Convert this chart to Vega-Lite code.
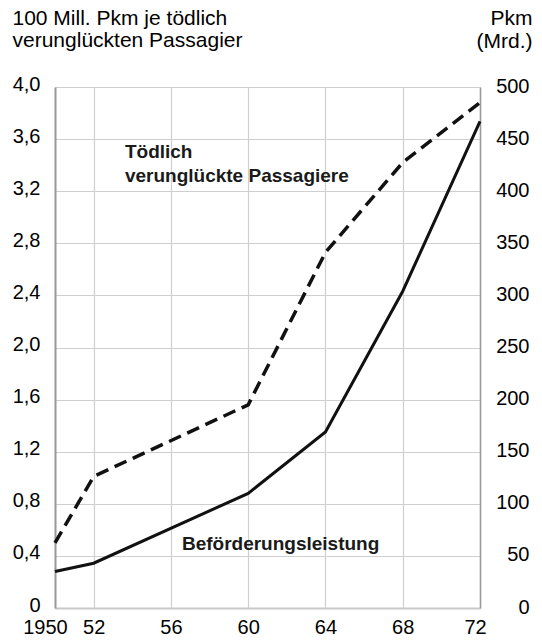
{
  "$schema": "https://vega.github.io/schema/vega-lite/v6.json",
  "width": 425,
  "height": 521,
  "autosize": {"type": "none"},
  "padding": {"left": 55, "top": 87, "right": 62, "bottom": 32},
  "background": "white",
  "config": {
    "view": {"stroke": null},
    "font": "Liberation Sans",
    "axis": {
      "labelFont": "Liberation Sans",
      "labelFontSize": 20,
      "labelColor": "#000",
      "titleFont": "Liberation Sans",
      "titleColor": "#000",
      "ticks": false,
      "tickSize": 0,
      "gridColor": "#cfcfcf",
      "gridWidth": 1.2
    }
  },
  "data": {
    "values": [
      {"year": 1950, "toedlich": 0.5, "pkm": 35},
      {"year": 1952, "toedlich": 1.01, "pkm": 43},
      {"year": 1960, "toedlich": 1.56, "pkm": 110},
      {"year": 1964, "toedlich": 2.73, "pkm": 169},
      {"year": 1968, "toedlich": 3.42, "pkm": 304},
      {"year": 1972, "toedlich": 3.88, "pkm": 467}
    ]
  },
  "layer": [
    {
      "mark": {"type": "line", "strokeDash": [13, 7], "strokeWidth": 3.5, "color": "#111"},
      "encoding": {
        "x": {
          "field": "year",
          "type": "quantitative",
          "scale": {"domain": [1950, 1972], "nice": false, "zero": false},
          "axis": {
            "title": null,
            "values": [1950, 1952, 1956, 1960, 1964, 1968, 1972],
            "labelExpr": "datum.value == 1950 ? '1950' : substring(toString(datum.value), 2)",
            "grid": true,
            "labelPadding": 9,
            "labelFlush": false,
            "labelOverlap": false,
            "domainColor": "#c8c8c8",
            "domainWidth": 2,
            "labelOffset": {
              "condition": [
                {"test": "datum.value == 1950", "value": -10},
                {"test": "datum.value == 1972", "value": -5}
              ],
              "value": 0
            }
          }
        },
        "y": {
          "field": "toedlich",
          "type": "quantitative",
          "scale": {"domain": [0, 4], "nice": false},
          "axis": {
            "orient": "left",
            "values": [0, 0.4, 0.8, 1.2, 1.6, 2.0, 2.4, 2.8, 3.2, 3.6, 4.0],
            "labelExpr": "datum.value == 0 ? '0' : replace(format(datum.value, '.1f'), '.', ',')",
            "grid": true,
            "labelPadding": 15,
            "labelBaseline": "middle",
            "labelOffset": -3,
            "labelFlush": false,
            "labelOverlap": false,
            "domainColor": "#999",
            "domainWidth": 2,
            "title": ["100 Mill. Pkm je tödlich", "verunglückten Passagier"],
            "titleAngle": 0,
            "titleAlign": "left",
            "titleBaseline": "alphabetic",
            "titleX": -43,
            "titleY": -63,
            "titleFontSize": 21,
            "titleFontWeight": "normal",
            "titleLineHeight": 22
          }
        }
      }
    },
    {
      "mark": {"type": "line", "strokeWidth": 3, "color": "#111"},
      "encoding": {
        "x": {"field": "year", "type": "quantitative", "axis": {"title": null}},
        "y": {
          "field": "pkm",
          "type": "quantitative",
          "scale": {"domain": [0, 500], "nice": false},
          "axis": {
            "orient": "right",
            "values": [0, 50, 100, 150, 200, 250, 300, 350, 400, 450, 500],
            "grid": false,
            "labelAlign": "right",
            "labelPadding": 49,
            "labelBaseline": "middle",
            "labelOffset": -1,
            "labelFlush": false,
            "labelOverlap": false,
            "domainColor": "#999",
            "domainWidth": 1.5,
            "title": ["Pkm", "(Mrd.)"],
            "titleAngle": 0,
            "titleAlign": "right",
            "titleBaseline": "alphabetic",
            "titleX": 52,
            "titleY": -63,
            "titleFontSize": 21,
            "titleFontWeight": "normal",
            "titleLineHeight": 23
          }
        }
      }
    },
    {
      "data": {
        "values": [
          {"label": "Tödlich\nverunglückte Passagiere", "year": 1953.62, "value": 3.455},
          {"label": "Beförderungsleistung", "year": 1956.57, "value": 0.445}
        ]
      },
      "mark": {
        "type": "text",
        "align": "left",
        "baseline": "alphabetic",
        "font": "Liberation Sans",
        "fontSize": 19,
        "fontWeight": "bold",
        "lineBreak": "\n",
        "lineHeight": 24,
        "color": "#1a1a1a"
      },
      "encoding": {
        "x": {"field": "year", "type": "quantitative", "axis": {"title": null}},
        "y": {"field": "value", "type": "quantitative", "scale": {"domain": [0, 4], "nice": false}, "axis": null},
        "text": {"field": "label"}
      }
    }
  ],
  "resolve": {"scale": {"y": "independent"}}
}
